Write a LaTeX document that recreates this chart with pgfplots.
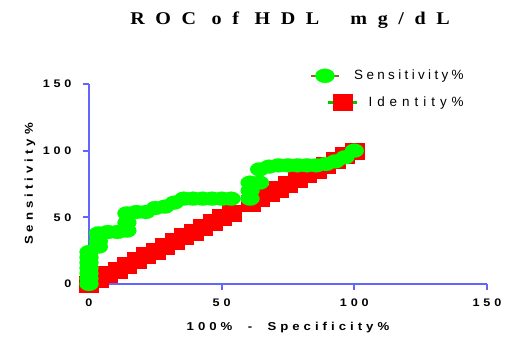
\documentclass[border=0pt]{standalone}
\usepackage{fontspec}
\usepackage{pgfplots}
\usepackage{pgfplotstable}
\pgfplotsset{compat=1.18}
\setmainfont{Liberation Sans}
\newfontfamily\titlefont[LetterSpace=59,FakeStretch=1.12]{Liberation Serif}
\newfontfamily\labfont[LetterSpace=35,FakeStretch=1.15]{Liberation Sans}
\newfontfamily\legfont[LetterSpace=25]{Liberation Sans}
\newfontfamily\legfontb[LetterSpace=37]{Liberation Sans}
\definecolor{axblue}{RGB}{100,100,255}
\definecolor{gr}{RGB}{0,255,0}
\definecolor{legbrown}{RGB}{150,100,40}
\definecolor{leggreen}{RGB}{0,200,0}

\pgfplotstableread{
x y
0 0
0 4
0 8
0 12
0 16
0 20
0 24
3.57 28
3.57 32
3.57 38
7.14 39
10.71 39
14.29 40
14.29 46
14.29 53
17.86 54
21.43 54
25.00 57
28.57 58
32.14 61
35.71 64
39.29 64
42.86 64
46.43 64
50.00 64
53.57 64
60.71 64
60.71 70
60.71 76
64.29 76
64.29 86
67.86 88
71.43 89
75.00 89
78.57 89
82.14 89
85.71 89
89.29 90
92.86 92
96.43 95
100 100
}\sens

\pgfplotstableread{
x y
0 0
3.57 3.57
7.14 7.14
10.71 10.71
14.29 14.29
17.86 17.86
21.43 21.43
25.00 25.00
28.57 28.57
32.14 32.14
35.71 35.71
39.29 39.29
42.86 42.86
46.43 46.43
50.00 50.00
53.57 53.57
60.71 60.71
64.29 64.29
67.86 67.86
71.43 71.43
75.00 75.00
78.57 78.57
82.14 82.14
85.71 85.71
89.29 89.29
92.86 92.86
96.43 96.43
100 100
}\ident

\begin{document}
\begin{tikzpicture}
\begin{axis}[
  scale only axis,
  width=398bp, height=200bp,
  xmin=0, xmax=150, ymin=0, ymax=150,
  clip=false,
  axis x line*=bottom, axis y line*=left,
  axis line style={axblue, line width=2bp},
  xtick={0,50,100,150}, ytick={0,50,100,150},
  tick style={axblue, line width=2bp},
  tick align=outside,
  major tick length=6bp,
  /pgf/number format/assume math mode=true,
  ticklabel style={font=\labfont\bfseries\fontsize{11}{13}\selectfont},
  yticklabel style={anchor=east, xshift=-8bp},
  xticklabel style={anchor=center, yshift=-13bp},
  xlabel={100\%\ \ -\ \ Specificity\%},
  ylabel={Sensitivity\%},
  label style={font=\labfont\bfseries\fontsize{11.5}{13}\selectfont},
  xlabel style={at={(axis description cs:0.5,0)}, anchor=center, yshift=-43.5bp},
  ylabel style={at={(axis description cs:-0.1482,0.5)}, anchor=center},
  title={ROC of HDL\ \ mg/dL},
  title style={font=\titlefont\bfseries\fontsize{18}{20}\selectfont, at={(axis description cs:0.505,1)}, anchor=center, yshift=58bp},
  reverse legend,
  legend cell align=right,
  legend style={draw=none, fill=none, at={(axis description cs:0.952,1.09)}, anchor=north east,
    font=\legfont\fontsize{13.5}{16}\selectfont, row sep=11bp,
    nodes={inner xsep=1bp},
    /tikz/every odd column/.append style={column sep=-5bp},
    /tikz/every even column/.append style={column sep=0bp}},
]
\addplot[red, only marks, mark=square*, mark size=8bp, mark options={draw=red, fill=red, line width=0.1bp, xscale=1.19},
  legend image code/.code={\draw[leggreen, line width=2.5bp] (17bp,0bp) -- (46bp,0bp); \fill[red] (22.3bp,-8bp) rectangle (41.3bp,8bp);}]
  table[x=x,y=y]{\ident};
\addlegendentry{\legfontb Identity\%}
\addplot[gr, only marks, mark=*, mark size=7bp, mark options={draw=gr, fill=gr, line width=0.1bp, xscale=1.36},
  legend image code/.code={\draw[legbrown, line width=2.5bp] (0bp,0bp) -- (28bp,0bp); \fill[gr] (14bp,0bp) ellipse [x radius=9.5bp, y radius=7bp];}]
  table[x=x,y=y]{\sens};
\addlegendentry{Sensitivity\%}
\end{axis}
\pgfresetboundingbox
\path (-89bp,-56bp) rectangle (423bp,284bp);
\end{tikzpicture}
\end{document}
